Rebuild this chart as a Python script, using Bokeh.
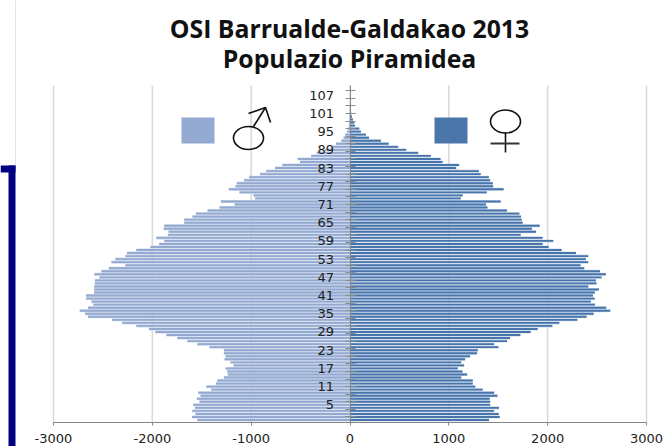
from bokeh.plotting import figure
from bokeh.embed import file_html
from bokeh.resources import INLINE
from bokeh.models import LinearAxis, FixedTicker, Label
import numpy as np

TITLE_1 = "OSI Barrualde-Galdakao 2013"
TITLE_2 = "Populazio Piramidea"
ages = list(range(0, 104))
labelled_ages = list(range(5, 108, 6))
x_ticks = [-3000, -2000, -1000, 0, 1000, 2000, 3000]
male = [1545,1599,1565,1596,1569,1586,1522,1549,1512,1535,1404,1455,1357,1343,1276,1236,1242,1259,1178,1209,
        1269,1259,1276,1276,1421,1545,1646,1747,1858,1970,2034,2162,2306,2407,2650,2680,2734,2650,2596,2616,
        2670,2670,2589,2589,2589,2582,2582,2535,2586,2515,2441,2273,2414,2374,2273,2256,2162,2020,1929,1879,
        1960,1842,1835,1885,1879,1677,1677,1593,1559,1441,1320,1168,1306,960,976,1118,1226,1158,1145,1071,
        1020,909,848,758,684,505,529,394,337,250,185,141,88,64,50,30,22,12,9,6,4,3,2,1]
female = [1407,1515,1505,1458,1508,1418,1418,1414,1492,1458,1343,1269,1242,1242,1125,1185,1138,1091,1155,1125,
          1165,1215,1286,1293,1502,1458,1589,1620,1724,1828,1899,2047,2118,2300,2394,2465,2633,2593,2478,2438,
          2475,2458,2478,2518,2411,2495,2488,2545,2589,2529,2370,2333,2411,2387,2411,2286,2141,2010,1949,2057,
          1949,1727,1882,1842,1919,1747,1737,1731,1714,1589,1391,1377,1525,1121,1141,1384,1555,1448,1445,1418,
          1404,1323,1303,1074,1104,936,916,818,690,569,488,391,313,192,162,111,94,50,44,30,20,13,8,5]

MALE_C = "#8FA6D0"
FEMALE_C = "#3F6FA8"
W, H = 664, 446
X_L, X_R, Y_T, Y_B = 53, 646, 85, 422   # plot box in page pixels
ppx = 6000 / (X_R - X_L)
ppy = 111.02 / (Y_B - Y_T)

def dx(px):  # page pixel to data
    return -3000 + (px - X_L) * ppx
def dy(py):
    return -0.82 + (Y_B - py) * ppy

p = figure(width=W, height=H, output_backend="svg", toolbar_location=None,
           x_range=(dx(0), dx(W)), y_range=(dy(H), dy(0)),
           min_border=0, x_axis_location=None, y_axis_location=None, outline_line_color=None)
p.xgrid.visible = False
p.ygrid.visible = False

# grid
p.segment(x_ticks, [-0.82] * 7, x_ticks, [110.2] * 7, line_color="#DADADA", line_width=1.6, level="underlay")

# halo + core
neg = [-v for v in male]
p.hbar(y=ages, right=neg, left=0, height=1.0, fill_color="#C6D2E8", line_color=None, fill_alpha=0.85)
p.hbar(y=ages, right=female, left=0, height=1.0, fill_color="#C3D2E6", line_color=None, fill_alpha=0.85)
p.hbar(y=ages, right=neg, left=0, height=0.62, fill_color=MALE_C, line_color=None, fill_alpha=0.95)
p.hbar(y=ages, right=female, left=0, height=0.62, fill_color=FEMALE_C, line_color=None, fill_alpha=0.95)

# axes
xa = LinearAxis(ticker=FixedTicker(ticks=x_ticks),
                major_label_overrides={t: str(t) for t in x_ticks}, fixed_location=-0.82)
xa.bounds = (-3000, 3000)
xa.axis_line_color = "#868686"
xa.major_tick_line_color = "#868686"
xa.major_tick_in = 0
xa.major_tick_out = 3
xa.minor_tick_line_color = None
xa.major_label_text_font = "DejaVu Sans"
xa.major_label_text_font_size = "13px"
xa.major_label_text_color = "#222222"
xa.major_label_standoff = 8
p.add_layout(xa, "below")

ya = LinearAxis(ticker=FixedTicker(ticks=labelled_ages, minor_ticks=[float(v) for v in np.arange(1, 111, 2.5)]),
                fixed_location=0)
ya.bounds = (-0.82, 110.2)
ya.axis_line_color = "#868686"
ya.major_tick_line_color = None
ya.minor_tick_line_color = "#8A8A8A"
ya.minor_tick_in = 5
ya.minor_tick_out = 5
ya.major_tick_out = 3
ya.major_tick_in = 0
ya.major_label_text_font = "DejaVu Sans"
ya.major_label_text_font_size = "13px"
ya.major_label_text_color = "#222222"
ya.major_label_standoff = 11
p.add_layout(ya, "left")

# legend keys
p.quad(left=[dx(181)], right=[dx(214)], bottom=[dy(143)], top=[dy(117)], fill_color="#95AAD2", line_color=None)
p.quad(left=[dx(434)], right=[dx(467)], bottom=[dy(143)], top=[dy(117)], fill_color="#4A76AC", line_color=None)

# gender signs
k = dict(line_color="#111111", line_width=1.6)
for (cx, cy) in [(248, 137.5), (505, 121)]:
    p.ellipse(x=[dx(cx)], y=[dy(cy)], width=[30 * ppx], height=[23 * ppy], fill_color=None, **k)
p.line([dx(253), dx(265)], [dy(126), dy(107)], **k)
p.line([dx(248), dx(265), dx(270)], [dy(113), dy(107), dy(122)], **k)
p.line([dx(505), dx(505)], [dy(132), dy(152)], **k)
p.line([dx(490), dx(519)], [dy(143), dy(143)], line_color="#333333", line_width=2)

# titles
for txt, py in [(TITLE_1, 27), (TITLE_2, 57)]:
    p.add_layout(Label(x=dx(349), y=dy(py), text=txt,
                       text_font="Open Sans", text_font_style="bold", text_font_size="24.8px",
                       text_align="center", text_baseline="middle", text_color="#111111"))

# frame on the left
def box(l, r, t, b, c):
    p.quad(left=[dx(l)], right=[dx(r)], top=[dy(t)], bottom=[dy(b)], fill_color=c, line_color=None)
box(14.5, 15.5, 0, 165, "#DCE6F2")
box(8, 15, 165, 446, "#000080")
box(0, 15, 165, 172, "#000080")

open("out.html", "w").write(file_html(p, INLINE))
